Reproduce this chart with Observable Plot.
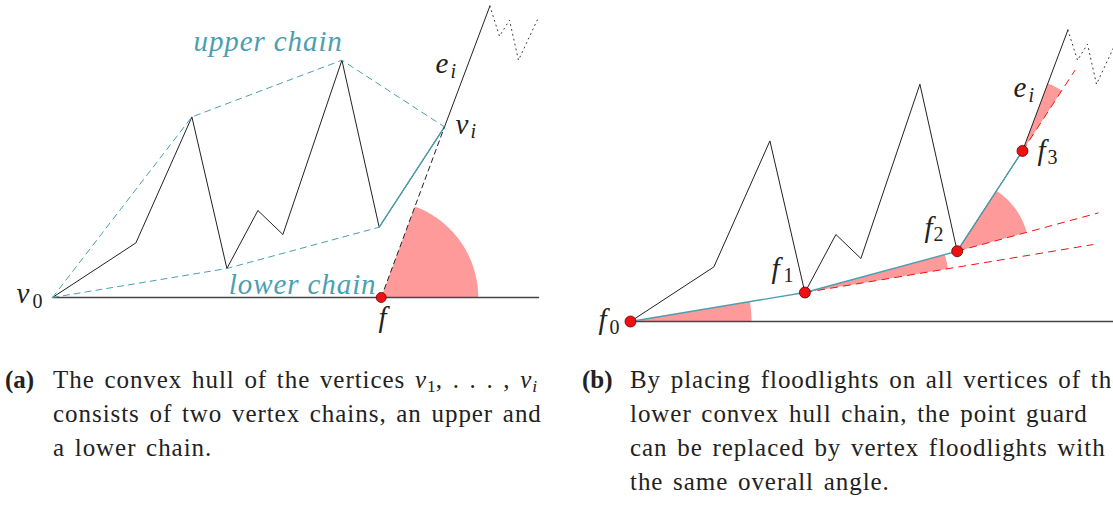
<!DOCTYPE html>
<html><head><meta charset="utf-8">
<script src="https://cdn.jsdelivr.net/npm/d3@7"></script>
<script src="https://cdn.jsdelivr.net/npm/@observablehq/plot@0.6"></script>
<style>
html,body{margin:0;padding:0;background:#fff;overflow:hidden;width:1113px;height:508px;}
#wrap{position:relative;width:1113px;height:508px;overflow:hidden;}
.panel{position:absolute;}
.cap{position:absolute;font-family:"Liberation Serif","Times New Roman",serif;font-size:25px;line-height:34px;color:#222;white-space:nowrap;}
.cap .tag{position:absolute;left:0;top:0;font-weight:bold;letter-spacing:0;}
.cap .body{margin-left:48px;letter-spacing:0.95px;word-spacing:2.5px;}
.cap sub{font-size:0.7em;vertical-align:-0.25em;line-height:0;letter-spacing:0;}
</style></head><body><div id="wrap"></div>
<script>
// Polygon vertices in local units (origin at v0 / f0, y pointing up)
const polyX = [0, 83.4, 139.4, 174.4, 205.4, 230.4, 289.4, 326.7, 392, 437.4];
const polyY = [0, 54.6, 180.6, 29, 87, 63, 237.3, 70.3, 170.6, 291.5];
// dotted continuation of the polygon
const dotX = [437.4, 447, 457, 466, 485];
const dotY = [291.5, 261.3, 277.3, 237.3, 278];
// hull chains (indices into polygon)
const upperChain = [0, 2, 6, 8];
const lowerChain = [0, 3, 7, 8];
const baseLength = 486;
// point guard f in panel (a)
const guardX = 328.7;
const guardRadius = 97;
// floodlight radii on f0..f3 in panel (b)
const floodRadii = [121, 145, 72, 72];
// dashed red rays continuing previous hull edge from f1, f2, f3
const rayLengths = [292, 146, 96];

const labelsA = [
  {t: "v", x: -36, y: -5, size: 29, style: "italic", anchor: "start", color: "#222"},
  {t: "0", x: -20, y: -10, size: 20, style: "normal", anchor: "start", color: "#222"},
  {t: "f", x: 330, y: -29, size: 29, style: "italic", anchor: "middle", color: "#222"},
  {t: "upper chain", x: 141, y: 247, size: 29, style: "italic", anchor: "start", color: "#4b9fb1", ls: 0.9},
  {t: "lower chain", x: 324, y: 4, size: 29, style: "italic", anchor: "end", color: "#4b9fb1", ls: 0.9},
  {t: "e", x: 383, y: 225, size: 29, style: "italic", anchor: "start", color: "#222"},
  {t: "i", x: 398, y: 220, size: 20, style: "italic", anchor: "start", color: "#222"},
  {t: "v", x: 403, y: 164, size: 29, style: "italic", anchor: "start", color: "#222"},
  {t: "i", x: 418, y: 160, size: 20, style: "italic", anchor: "start", color: "#222"}
];
const labelsB = [
  {t: "f", x: -32, y: -7, size: 29, style: "italic", anchor: "start", color: "#222"},
  {t: "0", x: -21, y: -12, size: 20, style: "normal", anchor: "start", color: "#222"},
  {t: "f", x: 141, y: 44, size: 29, style: "italic", anchor: "start", color: "#222"},
  {t: "1", x: 153, y: 40, size: 20, style: "normal", anchor: "start", color: "#222"},
  {t: "f", x: 294, y: 85, size: 29, style: "italic", anchor: "start", color: "#222"},
  {t: "2", x: 303, y: 81, size: 20, style: "normal", anchor: "start", color: "#222"},
  {t: "f", x: 407, y: 162, size: 29, style: "italic", anchor: "start", color: "#222"},
  {t: "3", x: 417, y: 158, size: 20, style: "normal", anchor: "start", color: "#222"},
  {t: "e", x: 383, y: 225, size: 29, style: "italic", anchor: "start", color: "#222"},
  {t: "i", x: 398, y: 220, size: 20, style: "italic", anchor: "start", color: "#222"}
];

const SERIF = "'Liberation Serif', 'Times New Roman', serif";
const TEAL = "#4b9fb1", PINK = "#ff9a9a", RED = "#ee1111";
const W = 556, H = 340, OX = 52, OY = 297;

const poly = polyX.map((x, i) => ({x, y: polyY[i]}));
const dotted = dotX.map((x, i) => ({x, y: dotY[i]}));
const chainPts = idx => idx.map(i => poly[i]);
const ang = (a, b) => Math.atan2(b.y - a.y, b.x - a.x);

function wedge(id, c, a0, a1, r) {
  const pts = [{id, x: c.x, y: c.y}];
  const n = Math.max(2, Math.ceil(Math.abs(a1 - a0) * 180 / Math.PI));
  for (let k = 0; k <= n; k++) {
    const a = a0 + (a1 - a0) * k / n;
    pts.push({id, x: c.x + r * Math.cos(a), y: c.y + r * Math.sin(a)});
  }
  pts.push({id, x: c.x, y: c.y});
  return pts;
}

function textMarks(labels) {
  return labels.map(l => Plot.text([l], {
    x: "x", y: "y", text: "t", fill: l.color, fontSize: l.size, fontStyle: l.style,
    fontFamily: SERIF, textAnchor: l.anchor, lineAnchor: "bottom",
    render: (index, scales, values, dims, ctx, next) => {
      const g = next(index, scales, values, dims, ctx);
      if (l.ls) g.setAttribute("letter-spacing", l.ls);
      return g;
    }
  }));
}

function base(marks) {
  return Plot.plot({
    width: W, height: H, margin: 0,
    x: {domain: [-OX, W - OX], range: [0, W], axis: null},
    y: {domain: [OY - H, OY], range: [H, 0], axis: null},
    style: {background: "transparent", maxWidth: "none", overflow: "visible", fontFamily: SERIF},
    marks
  });
}

// ---------- panel (a) ----------
const guard = {x: guardX, y: 0};
const vi = poly[8];
const marksA = [
  Plot.line(wedge(0, guard, 0, ang(guard, vi), guardRadius), {x: "x", y: "y", z: "id", fill: PINK, stroke: "none"}),
  Plot.line([{x: 0, y: 0}, {x: baseLength, y: 0}], {x: "x", y: "y", stroke: "#444", strokeWidth: 1.5}),
  Plot.line(poly, {x: "x", y: "y", stroke: "#222", strokeWidth: 1}),
  Plot.line(dotted, {x: "x", y: "y", stroke: "#333", strokeWidth: 1, strokeDasharray: "1,4"}),
  Plot.line(chainPts(upperChain), {x: "x", y: "y", stroke: TEAL, strokeWidth: 1, strokeDasharray: "6,5"}),
  Plot.line(chainPts(lowerChain).slice(0, 3), {x: "x", y: "y", stroke: TEAL, strokeWidth: 1, strokeDasharray: "6,5"}),
  Plot.line(chainPts(lowerChain).slice(2), {x: "x", y: "y", stroke: TEAL, strokeWidth: 1.4}),
  Plot.line([guard, vi], {x: "x", y: "y", stroke: "#222", strokeWidth: 1, strokeDasharray: "5,4"}),
  Plot.dot([guard], {x: "x", y: "y", r: 5, fill: RED, stroke: "#600", strokeWidth: 0.8}),
  ...textMarks(labelsA)
];

// ---------- panel (b) ----------
const fl = chainPts(lowerChain); // f0..f3
const topV = poly[9];
const dirs = [0];
for (let k = 0; k < fl.length; k++) dirs.push(ang(fl[k], k < fl.length - 1 ? fl[k + 1] : topV));
const wedges = fl.flatMap((c, k) => wedge(k, c, dirs[k], dirs[k + 1], floodRadii[k]));
const rays = fl.slice(1).flatMap((c, k) => {
  const a = dirs[k + 1];
  return [{id: k, x: c.x, y: c.y}, {id: k, x: c.x + rayLengths[k] * Math.cos(a), y: c.y + rayLengths[k] * Math.sin(a)}];
});
const marksB = [
  Plot.line(wedges, {x: "x", y: "y", z: "id", fill: PINK, stroke: "none"}),
  Plot.line([{x: 0, y: 0}, {x: baseLength, y: 0}], {x: "x", y: "y", stroke: "#444", strokeWidth: 1.5}),
  Plot.line(rays, {x: "x", y: "y", z: "id", stroke: RED, strokeWidth: 1, strokeDasharray: "7,6"}),
  Plot.line(poly, {x: "x", y: "y", stroke: "#222", strokeWidth: 1}),
  Plot.line(dotted, {x: "x", y: "y", stroke: "#333", strokeWidth: 1, strokeDasharray: "1,4"}),
  Plot.line(fl, {x: "x", y: "y", stroke: TEAL, strokeWidth: 1.4}),
  Plot.dot(fl, {x: "x", y: "y", r: 5.5, fill: RED, stroke: "#600", strokeWidth: 0.8}),
  ...textMarks(labelsB)
];

const wrap = document.getElementById("wrap");
const pa = base(marksA); pa.classList.add("panel"); pa.style.left = "0px"; pa.style.top = "0px";
const pb = base(marksB); pb.classList.add("panel"); pb.style.left = "578px"; pb.style.top = "24px";
wrap.appendChild(pa); wrap.appendChild(pb);

// ---------- captions ----------
const capA = document.createElement("div");
capA.className = "cap"; capA.style.left = "5px"; capA.style.top = "363px";
capA.innerHTML = '<span class="tag">(a)</span><div class="body">The convex hull of the vertices <i>v</i><sub>1</sub>, . . . , <i>v<sub>i</sub></i><br>consists of two vertex chains, an upper and<br>a lower chain.</div>';
const capB = document.createElement("div");
capB.className = "cap"; capB.style.left = "582px"; capB.style.top = "363px";
capB.innerHTML = '<span class="tag">(b)</span><div class="body">By placing floodlights on all vertices of the<br>lower convex hull chain, the point guard<br>can be replaced by vertex floodlights with<br>the same overall angle.</div>';
wrap.appendChild(capA); wrap.appendChild(capB);
</script></body></html>
